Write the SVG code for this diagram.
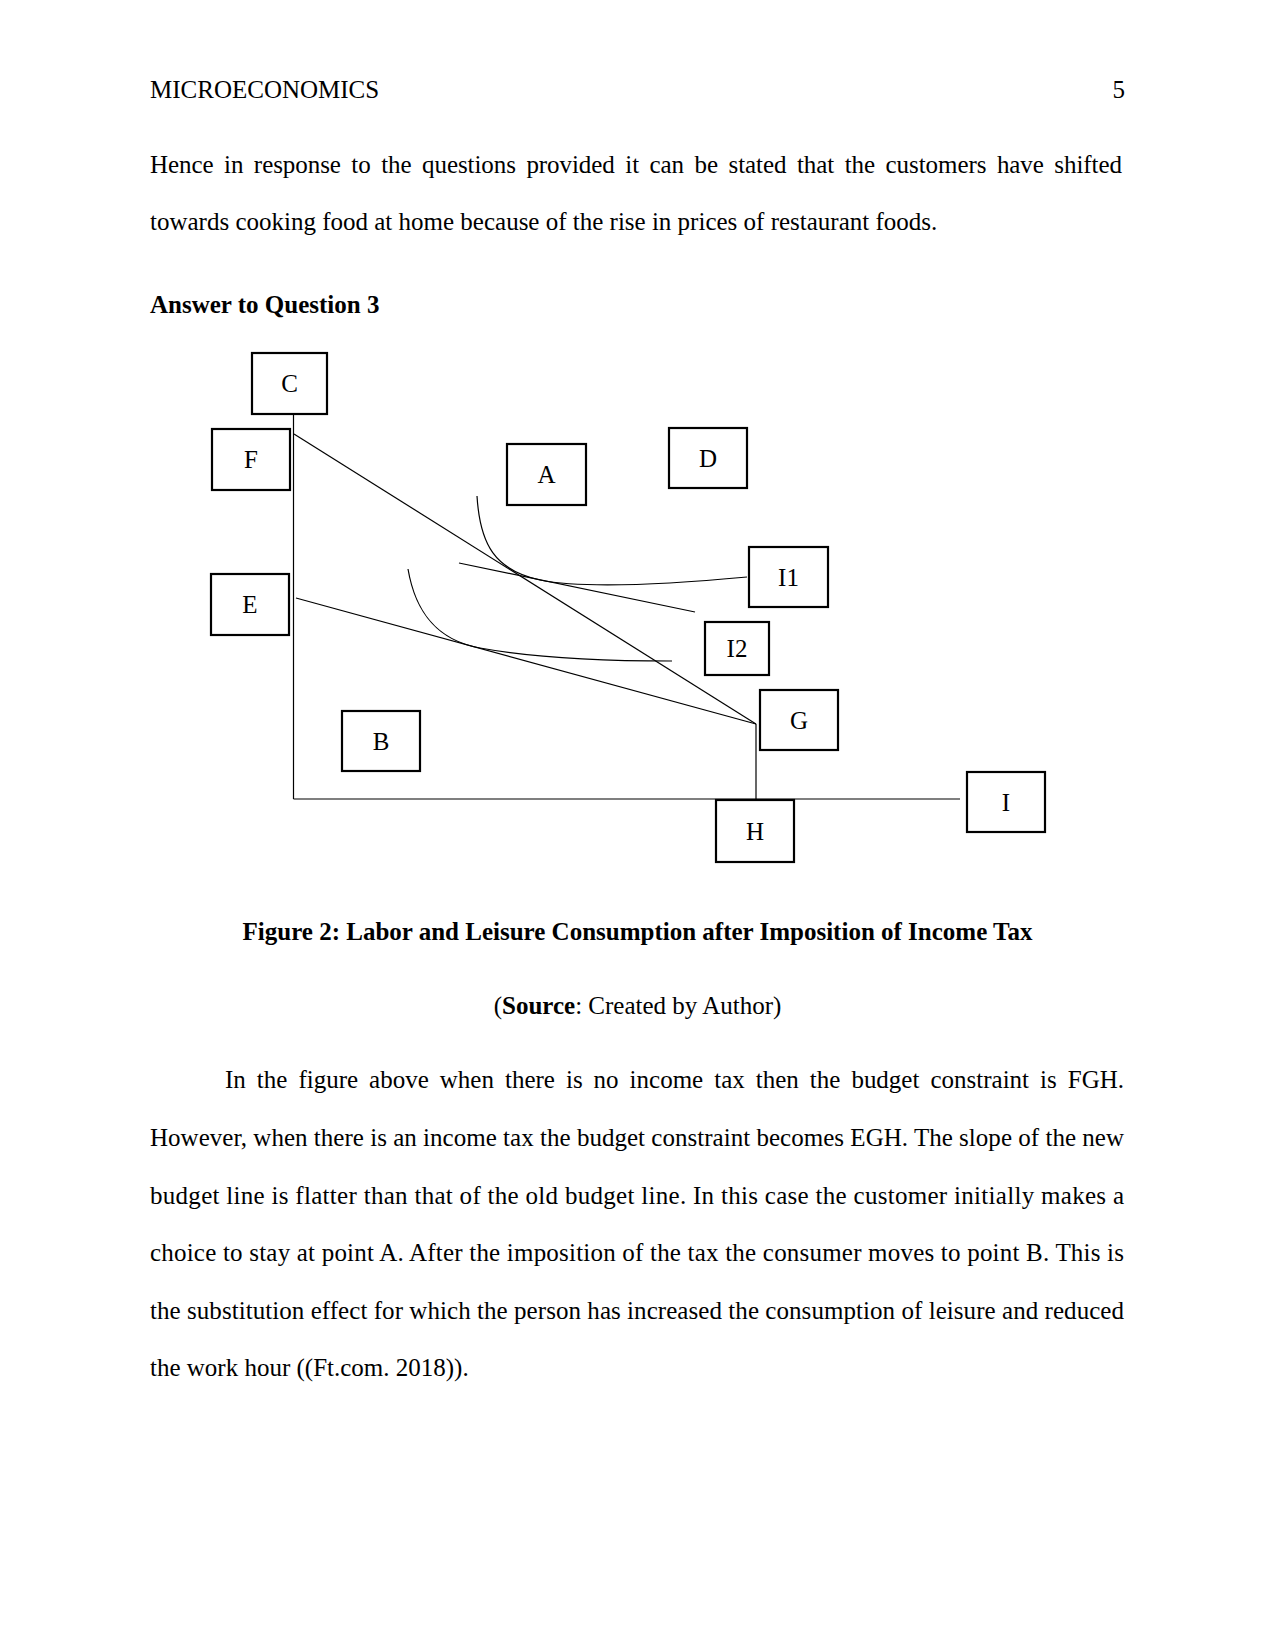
<svg xmlns="http://www.w3.org/2000/svg" width="1275" height="1650" viewBox="0 0 1275 1650">
<style>
text{font-family:"Liberation Serif","Times New Roman",serif;font-size:25px;fill:#000}
.b{font-weight:bold}
.box{fill:#fff;stroke:#000;stroke-width:2.2}
.lbl{text-anchor:middle}
.ln{fill:none;stroke:#000;stroke-width:1.2}
</style>
<rect width="1275" height="1650" fill="#fff"/>
<g id="page-text">
<text x="150" y="98">MICROECONOMICS</text>
<text x="1125" y="98" text-anchor="end">5</text>
<text x="150" y="173" word-spacing="4.3" textLength="972" lengthAdjust="spacing">Hence in response to the questions provided it can be stated that the customers have shifted</text>
<text x="150" y="230">towards cooking food at home because of the rise in prices of restaurant foods.</text>
<text x="150" y="313" class="b">Answer to Question 3</text>
<text x="637.5" y="940" class="b" text-anchor="middle">Figure 2: Labor and Leisure Consumption after Imposition of Income Tax</text>
<text x="637.5" y="1014" text-anchor="middle">(<tspan class="b">Source</tspan>: Created by Author)</text>
<text x="225" y="1088" word-spacing="4.75" textLength="899" lengthAdjust="spacing">In the figure above when there is no income tax then the budget constraint is FGH.</text>
<text x="150" y="1146" textLength="974" lengthAdjust="spacing">However, when there is an income tax the budget constraint becomes EGH. The slope of the new</text>
<text x="150" y="1203.5" textLength="974" lengthAdjust="spacing">budget line is flatter than that of the old budget line. In this case the customer initially makes a</text>
<text x="150" y="1261" textLength="974" lengthAdjust="spacing">choice to stay at point A. After the imposition of the tax the consumer moves to point B. This is</text>
<text x="150" y="1318.5" textLength="974" lengthAdjust="spacing">the substitution effect for which the person has increased the consumption of leisure and reduced</text>
<text x="150" y="1376">the work hour ((Ft.com. 2018)).</text>
</g>
<g id="connectors">
<line class="ln" x1="293.5" y1="414" x2="293.5" y2="799"/>
<line class="ln" x1="293.5" y1="799" x2="960" y2="799"/>
<line class="ln" x1="294" y1="434" x2="756" y2="724"/>
<line class="ln" x1="296" y1="598" x2="756" y2="724"/>
<line class="ln" x1="756" y1="724" x2="756" y2="799"/>
<line class="ln" x1="459" y1="563" x2="695" y2="612"/>
<path class="ln" d="M477,496 C480,545 495,570 540,580 C580,588 650,586 747,577"/>
<path class="ln" d="M408,569 C415,610 435,640 480,648 C530,657 600,661 672,661"/>
</g>
<g id="node-C"><rect class="box" x="252" y="353" width="75" height="61"/><text class="lbl" x="289.5" y="392">C</text></g>
<g id="node-F"><rect class="box" x="212" y="429" width="78" height="61"/><text class="lbl" x="251" y="468">F</text></g>
<g id="node-E"><rect class="box" x="211" y="574" width="78" height="61"/><text class="lbl" x="250" y="613">E</text></g>
<g id="node-A"><rect class="box" x="507" y="444" width="79" height="61"/><text class="lbl" x="546.5" y="483">A</text></g>
<g id="node-D"><rect class="box" x="669" y="428" width="78" height="60"/><text class="lbl" x="708" y="466.5">D</text></g>
<g id="node-I1"><rect class="box" x="749" y="547" width="79" height="60"/><text class="lbl" x="788.5" y="585.5">I1</text></g>
<g id="node-I2"><rect class="box" x="705" y="622" width="64" height="53"/><text class="lbl" x="737" y="657">I2</text></g>
<g id="node-G"><rect class="box" x="760" y="690" width="78" height="60"/><text class="lbl" x="799" y="728.5">G</text></g>
<g id="node-B"><rect class="box" x="342" y="711" width="78" height="60"/><text class="lbl" x="381" y="749.5">B</text></g>
<g id="node-H"><rect class="box" x="716" y="800" width="78" height="62"/><text class="lbl" x="755" y="839.5">H</text></g>
<g id="node-I"><rect class="box" x="967" y="772" width="78" height="60"/><text class="lbl" x="1006" y="810.5">I</text></g>
</svg>
